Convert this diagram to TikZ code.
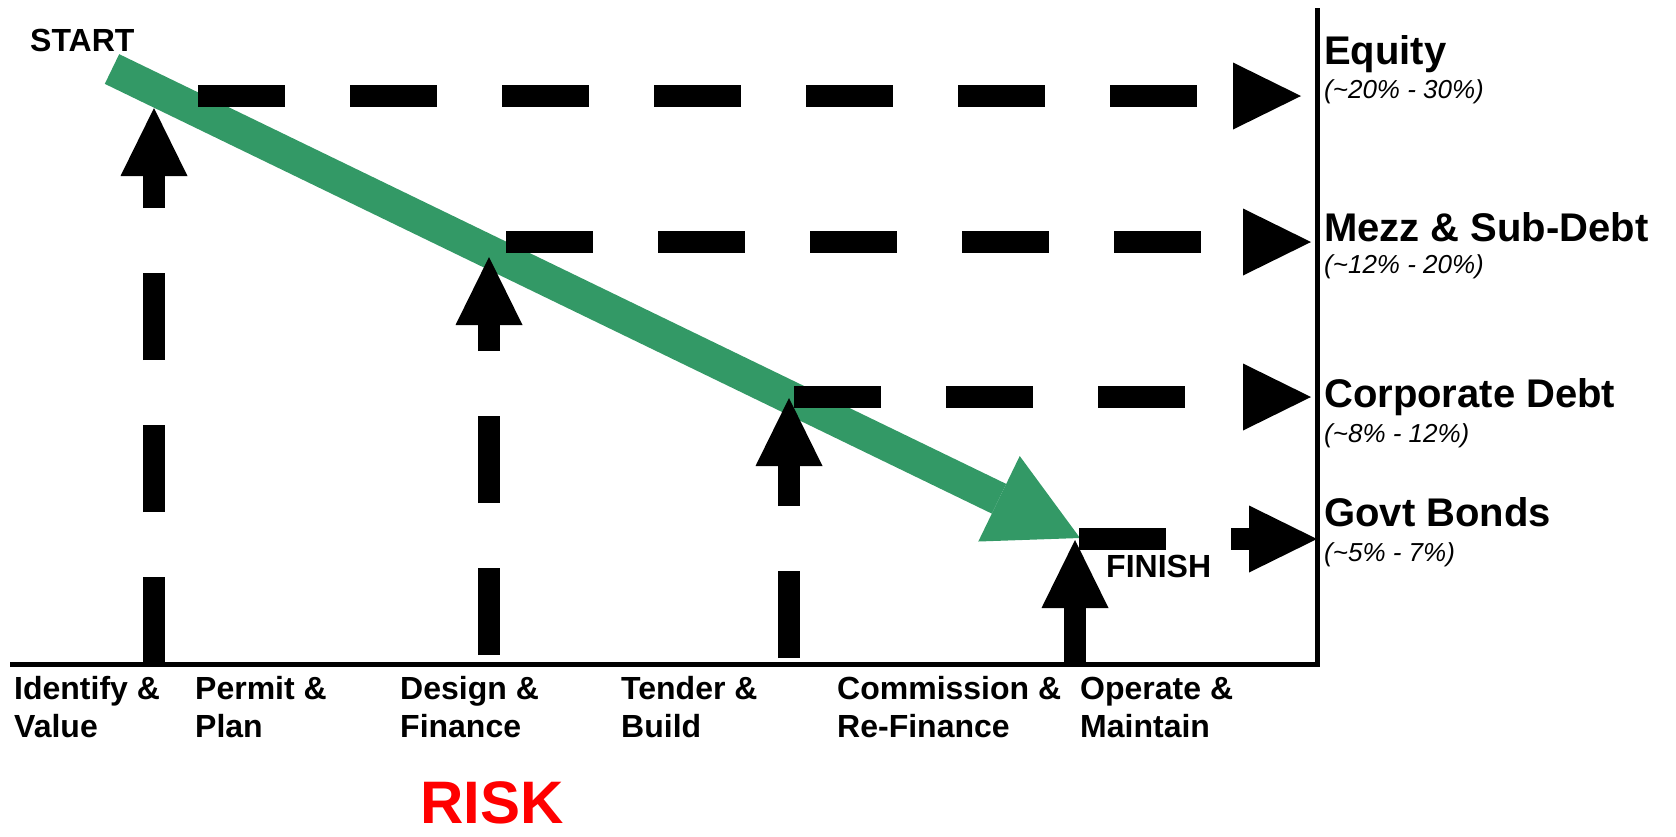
\documentclass[tikz,border=0pt]{standalone}
\usepackage{fontspec}
\setmainfont{Liberation Sans}
\usetikzlibrary{arrows.meta}

\begin{document}
\begin{tikzpicture}[x=1pt,y=-1pt,
    tranche/.style={line width=22pt,dash pattern=on 87pt off 65pt,-{Triangle[length=68pt,width=67pt,line width=0pt]}},
    stage/.style={anchor=base west,inner sep=0pt,align=left,font=\fontsize{32}{38}\selectfont\bfseries},
    tier/.style={anchor=base west,inner sep=0pt,font=\fontsize{40}{42}\selectfont\bfseries},
    yield/.style={anchor=base west,inner sep=0pt,font=\fontsize{26}{28}\selectfont\itshape},
    endlbl/.style={anchor=base west,inner sep=0pt,font=\fontsize{32}{32}\selectfont\bfseries}]
    \definecolor{riskgreen}{RGB}{51,153,102}
    \useasboundingbox (0,0) rectangle (1676,836);

    % axes
    \coordinate (left) at (10,664);
    \coordinate (corner) at (1317,664);
    \coordinate (top) at (1317,8);
    \draw[line width=5pt] (left) -- (corner) -- (top);

    % falling risk
    \coordinate (start) at (112,69);
    \coordinate (finish) at (1080,538);
    \draw[riskgreen,line width=33pt,-{Triangle[length=90pt,width=95pt,line width=0pt]}] (start) -- (finish);

    % stages up to the risk line
    \coordinate (idbase) at (154,664);
    \coordinate (idtip) at (154,108);
    \coordinate (dsbase) at (489,655);
    \coordinate (dstip) at (489,257);
    \coordinate (tbbase) at (789,658);
    \coordinate (tbtip) at (789,398);
    \coordinate (opbase) at (1075,664);
    \coordinate (optip) at (1075,540);
    \draw[tranche] (idbase) -- (idtip);
    \draw[tranche] (dsbase) -- (dstip);
    \draw[tranche] (tbbase) -- (tbtip);
    \draw[tranche] (opbase) -- (optip);

    % across to the returns
    \coordinate (eqfrom) at (198,96);
    \coordinate (eqto) at (1301,96);
    \coordinate (mzfrom) at (506,242);
    \coordinate (mzto) at (1311,242);
    \coordinate (cdfrom) at (794,397);
    \coordinate (cdto) at (1311,397);
    \coordinate (gbfrom) at (1079,539);
    \coordinate (gbto) at (1317,539);
    \draw[tranche] (eqfrom) -- (eqto);
    \draw[tranche] (mzfrom) -- (mzto);
    \draw[tranche] (cdfrom) -- (cdto);
    \draw[tranche] (gbfrom) -- (gbto);

    \node[endlbl] (startlbl) at (30,51) {START};
    \node[endlbl] (finishlbl) at (1106,577) {FINISH};

    \node[tier] (equity) at (1324,64) {Equity};
    \node[yield] (equityyld) at (1324,98) {(\textasciitilde 20\% - 30\%)};
    \node[tier] (mezz) at (1324,241) {Mezz \& Sub-Debt};
    \node[yield] (mezzyld) at (1324,273) {(\textasciitilde 12\% - 20\%)};
    \node[tier] (corp) at (1324,407) {Corporate Debt};
    \node[yield] (corpyld) at (1324,442) {(\textasciitilde 8\% - 12\%)};
    \node[tier] (govt) at (1324,526) {Govt Bonds};
    \node[yield] (govtyld) at (1324,561) {(\textasciitilde 5\% - 7\%)};

    \node[stage] (identify) at (14,737) {Identify \&\\Value};
    \node[stage] (permit) at (195,737) {Permit \&\\Plan};
    \node[stage] (design) at (400,737) {Design \&\\Finance};
    \node[stage] (tender) at (621,737) {Tender \&\\Build};
    \node[stage] (commission) at (837,737) {Commission \&\\Re-Finance};
    \node[stage] (operate) at (1080,737) {Operate \&\\Maintain};

    \node[anchor=base west,inner sep=0pt,text=red,font=\fontsize{60}{60}\selectfont\bfseries] (risk) at (420,823) {RISK};
\end{tikzpicture}
\end{document}
